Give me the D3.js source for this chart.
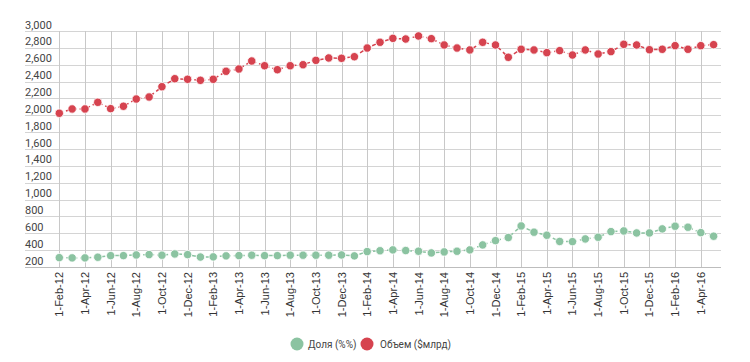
<!DOCTYPE html>
<html>
<head>
<meta charset="utf-8">
<script src="https://cdnjs.cloudflare.com/ajax/libs/d3/7.8.5/d3.min.js"></script>
<style>
  body { margin: 0; background: #fff; }
  svg { display: block; }
</style>
</head>
<body>
<div id="chart-area"></div>
<script>
const WIDTH = 750;
const HEIGHT = 362;

// monthly points, Feb 2012 .. May 2016
const months = d3.timeMonth.range(new Date(2012, 1, 1), new Date(2016, 5, 1));

const share = [
  311, 308, 308, 316, 335, 335, 343, 347, 340, 355, 347,
  318, 320, 332, 335, 340, 335, 335, 340, 340, 340, 340, 343,
  332, 383, 393, 403, 395, 387, 367, 379, 387, 403, 462, 513,
  549, 687, 613, 577, 503, 501, 533, 553, 620, 628, 604, 604,
  652, 684, 672, 608, 565
];

const volume = [
  2024, 2075, 2075, 2154, 2079, 2107, 2193, 2217, 2339, 2434, 2427,
  2415, 2427, 2522, 2549, 2644, 2588, 2541, 2588, 2600, 2652, 2680, 2676,
  2695, 2798, 2866, 2913, 2905, 2941, 2909, 2834, 2798, 2775, 2866, 2834,
  2688, 2783, 2775, 2743, 2767, 2715, 2775, 2727, 2755, 2842, 2834, 2778,
  2783, 2826, 2783, 2826, 2838
];

const yTicks = [200, 400, 600, 800, 1000, 1200, 1400, 1600, 1800, 2000, 2200, 2400, 2600, 2800, 3000];

const seriesNames = ['Доля (%%)', 'Объем ($млрд)'];
const seriesColors = ['#8bc3a1', '#d6434f'];

const fmtMonth = d3.timeFormat('%b-%y');
const labels = months.map(d => '1-' + fmtMonth(d));

const x = d3.scalePoint()
  .domain(labels)
  .range([59.3, 713.6]);

const y = d3.scaleLinear()
  .domain([200, 3000])
  .range([267, 31]);

const GRID_LEFT = 25;
const GRID_RIGHT = 721;

const svg = d3.select('#chart-area').append('svg')
  .attr('width', WIDTH)
  .attr('height', HEIGHT);

// horizontal grid + labels above the lines
const yg = svg.append('g');
yg.selectAll('line').data(yTicks).enter().append('line')
  .attr('x1', GRID_LEFT)
  .attr('x2', GRID_RIGHT)
  .attr('y1', d => Math.round(y(d)) + 0.5)
  .attr('y2', d => Math.round(y(d)) + 0.5)
  .attr('stroke', '#d4d4d4')
  .attr('stroke-width', 1);

yg.selectAll('text').data(yTicks).enter().append('text')
  .attr('x', GRID_LEFT)
  .attr('y', d => y(d) - 2.5)
  .attr('font-family', 'Roboto, sans-serif')
  .attr('font-size', 11)
  .attr('fill', '#444')
  .text(d => d3.format(',')(d));

// vertical grid every 2 months
const xTickLabels = labels.filter((d, i) => i % 2 === 0);

const xg = svg.append('g');
xg.selectAll('line').data(xTickLabels).enter().append('line')
  .attr('x1', d => Math.round(x(d)) + 0.5)
  .attr('x2', d => Math.round(x(d)) + 0.5)
  .attr('y1', y(3000))
  .attr('y2', y(200))
  .attr('stroke', '#c8c8c8')
  .attr('stroke-width', 1);

xg.selectAll('text').data(xTickLabels).enter().append('text')
  .attr('transform', d => `translate(${x(d) + 4},272) rotate(-90)`)
  .attr('text-anchor', 'end')
  .attr('font-family', '"Liberation Sans", Arial, sans-serif')
  .attr('font-size', 11)
  .attr('fill', '#333')
  .text(d => d);

// axis line at bottom
svg.append('line')
  .attr('x1', GRID_LEFT)
  .attr('x2', GRID_RIGHT)
  .attr('y1', Math.round(y(200)) + 0.5)
  .attr('y2', Math.round(y(200)) + 0.5)
  .attr('stroke', '#bdbdbd');

const line = d3.line()
  .x((d, i) => x(labels[i]))
  .y(d => y(d));

[share, volume].forEach((vals, k) => {
  const g = svg.append('g');
  g.append('path')
    .attr('d', line(vals))
    .attr('fill', 'none')
    .attr('stroke', seriesColors[k])
    .attr('stroke-width', 1.5)
    .attr('stroke-dasharray', '4,3');
  g.selectAll('circle').data(vals).enter().append('circle')
    .attr('cx', (d, i) => x(labels[i]))
    .attr('cy', d => y(d))
    .attr('r', 4.2)
    .attr('fill', seriesColors[k])
    .attr('stroke', '#fff')
    .attr('stroke-width', 0.8);
});

// legend
const legendPos = [{ cx: 297, tx: 308 }, { cx: 367, tx: 380 }];
const legend = svg.append('g');
seriesNames.forEach((name, k) => {
  legend.append('circle')
    .attr('cx', legendPos[k].cx)
    .attr('cy', 344)
    .attr('r', 6.5)
    .attr('fill', seriesColors[k]);
  legend.append('text')
    .attr('x', legendPos[k].tx)
    .attr('y', 347.5)
    .attr('font-family', 'Roboto, sans-serif')
    .attr('font-size', 10)
    .attr('fill', '#444')
    .text(name);
});
</script>
</body>
</html>
